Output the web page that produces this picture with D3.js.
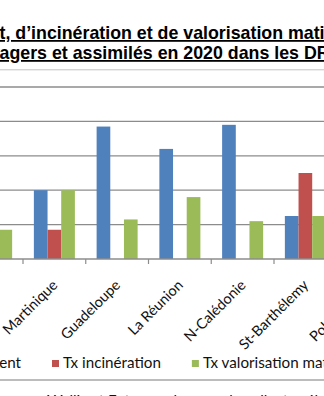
<!DOCTYPE html>
<html>
<head>
<meta charset="utf-8">
<script src="https://cdn.jsdelivr.net/npm/d3@7"></script>
<style>
  html, body { margin: 0; padding: 0; background: #fff; overflow: hidden; }
  svg { display: block; }
</style>
</head>
<body>
<div id="chart"></div>
<script>
// Waste treatment rates by territory, 2020 (%)
const categories = ["Guyane", "Martinique", "Guadeloupe", "La Réunion", "N-Calédonie", "St-Barthélemy", "Polynésie Fr."];
const seriesNames = ["Tx enfouissement", "Tx incinération", "Tx valorisation matière"];
const enfouissement = [80, 40, 77, 64, 78, 25, 70];
const incineration  = [0, 17, 0, 0, 0, 50, 0];
const valorisation  = [17, 40, 23, 36, 22, 25, 12];
const yTicks = [0, 20, 40, 60, 80, 100];
const titleLines = [
  { text: "Taux d’enfouissement, d’incinération et de valorisation matière des déchets", hidden: "Taux d’enfouissemen" },
  { text: "ménagers et assimilés en 2020 dans les DROM-COM", hidden: "mén" }
];
const note = "Wallis et Futuna : absence de collecte sélective";
const colors = ["#4F81BD", "#C0504D", "#9BBB59"];

const values = [enfouissement, incineration, valorisation];
const rows = categories.map((c, i) => ({ cat: c, vals: seriesNames.map((s, k) => ({ key: s, value: values[k][i] })) }));

const W = 324, H = 396;
const bodyFont = "Lato, 'Open Sans', sans-serif";
const svg = d3.select("#chart").append("svg").attr("width", W).attr("height", H);

// Category bands (chart is wider than the view; it is cropped on both sides)
const step = 62.75;
const x0 = d3.scaleBand().domain(categories)
  .range([23 - step, 23 - step + step * categories.length])
  .paddingInner(0).paddingOuter(0);
const x1 = d3.scaleBand().domain(seriesNames)
  .range([0, x0.bandwidth()])
  .paddingInner(0).paddingOuter(0.795);
const y = d3.scaleLinear().domain([0, 110]).range([259, 69.8]);

// Plot area top border
svg.append("line")
  .attr("x1", 0).attr("x2", W)
  .attr("y1", y(110)).attr("y2", y(110))
  .attr("stroke", "#c4c4c4").attr("stroke-width", 1);

// Gridlines
svg.append("g").selectAll("line").data(yTicks.filter(d => d > 0)).join("line")
  .attr("x1", 0).attr("x2", W)
  .attr("y1", d => y(d)).attr("y2", d => y(d))
  .attr("stroke", "#8c8c8c").attr("stroke-width", 1.3);

// Bars
const groups = svg.append("g").selectAll("g").data(rows).join("g")
  .attr("transform", d => `translate(${x0(d.cat)},0)`);
groups.selectAll("rect").data(d => d.vals).join("rect")
  .attr("x", d => x1(d.key))
  .attr("width", x1.bandwidth())
  .attr("y", d => y(d.value))
  .attr("height", d => y(0) - y(d.value))
  .attr("fill", (d, i) => colors[i]);

// Category axis
const xAxis = svg.append("g").attr("transform", `translate(0,${y(0)})`)
  .call(d3.axisBottom(x0).tickSize(0).tickPadding(0));
xAxis.select(".domain").remove();
xAxis.append("line").attr("x1", 0).attr("x2", W).attr("y1", 0).attr("y2", 0)
  .attr("stroke", "#8c8c8c").attr("stroke-width", 1.3);
xAxis.selectAll(".boundary").data(categories).join("line")
  .attr("class", "boundary")
  .attr("x1", d => x0(d) + x0.step()).attr("x2", d => x0(d) + x0.step())
  .attr("y1", 0).attr("y2", 5)
  .attr("stroke", "#8c8c8c").attr("stroke-width", 1.2);
xAxis.selectAll(".tick text")
  .attr("font-family", bodyFont)
  .attr("font-size", 14.5)
  .attr("fill", "#111")
  .attr("text-anchor", "end")
  .attr("dy", 0)
  .attr("transform", "translate(4,27) rotate(-45)");

// Title (underlined, bold)
const titleSize = 17.8;
titleLines.forEach((t, i) => {
  const probe = svg.append("text")
    .attr("font-family", "'Liberation Sans', Arial, sans-serif")
    .attr("font-weight", "bold").attr("font-size", titleSize)
    .text(t.hidden);
  const off = probe.node().getComputedTextLength();
  probe.remove();
  svg.append("text")
    .attr("x", -off - 0.5).attr("y", 39 + i * 20)
    .attr("font-family", "'Liberation Sans', Arial, sans-serif")
    .attr("font-weight", "bold").attr("font-size", titleSize)
    .attr("text-decoration", "underline")
    .attr("fill", "#000")
    .text(t.text);
});

// Legend: items laid out in a row, each after the previous one's text
const legendSize = 15.2, swatch = 7, swatchGap = 4, itemGap = 31;
const legend = svg.append("g");
const items = legend.selectAll("g").data(seriesNames).join("g");
items.append("rect").attr("width", swatch).attr("height", swatch).attr("fill", (d, i) => colors[i]);
items.append("text").attr("x", swatch + swatchGap).attr("y", 8)
  .attr("font-family", bodyFont)
  .attr("font-size", legendSize).attr("fill", "#111")
  .text(d => d);
const widths = items.select("text").nodes().map(n => n.getComputedTextLength());
const itemW = widths.map(w => swatch + swatchGap + w + itemGap);
// second swatch sits at x = 52
const startX = 52 - itemW[0];
let acc = startX;
items.attr("transform", (d, i) => { const t = `translate(${acc},360)`; acc += itemW[i]; return t; });

// Chart frame bottom edge
svg.append("line").attr("x1", 0).attr("x2", W).attr("y1", 380).attr("y2", 380)
  .attr("stroke", "#a6a6a6").attr("stroke-width", 1.6);

// Footnote
svg.append("text").attr("x", 47).attr("y", 406)
  .attr("font-family", bodyFont)
  .attr("font-size", 15.2).attr("fill", "#111")
  .text(note);
</script>
</body>
</html>
